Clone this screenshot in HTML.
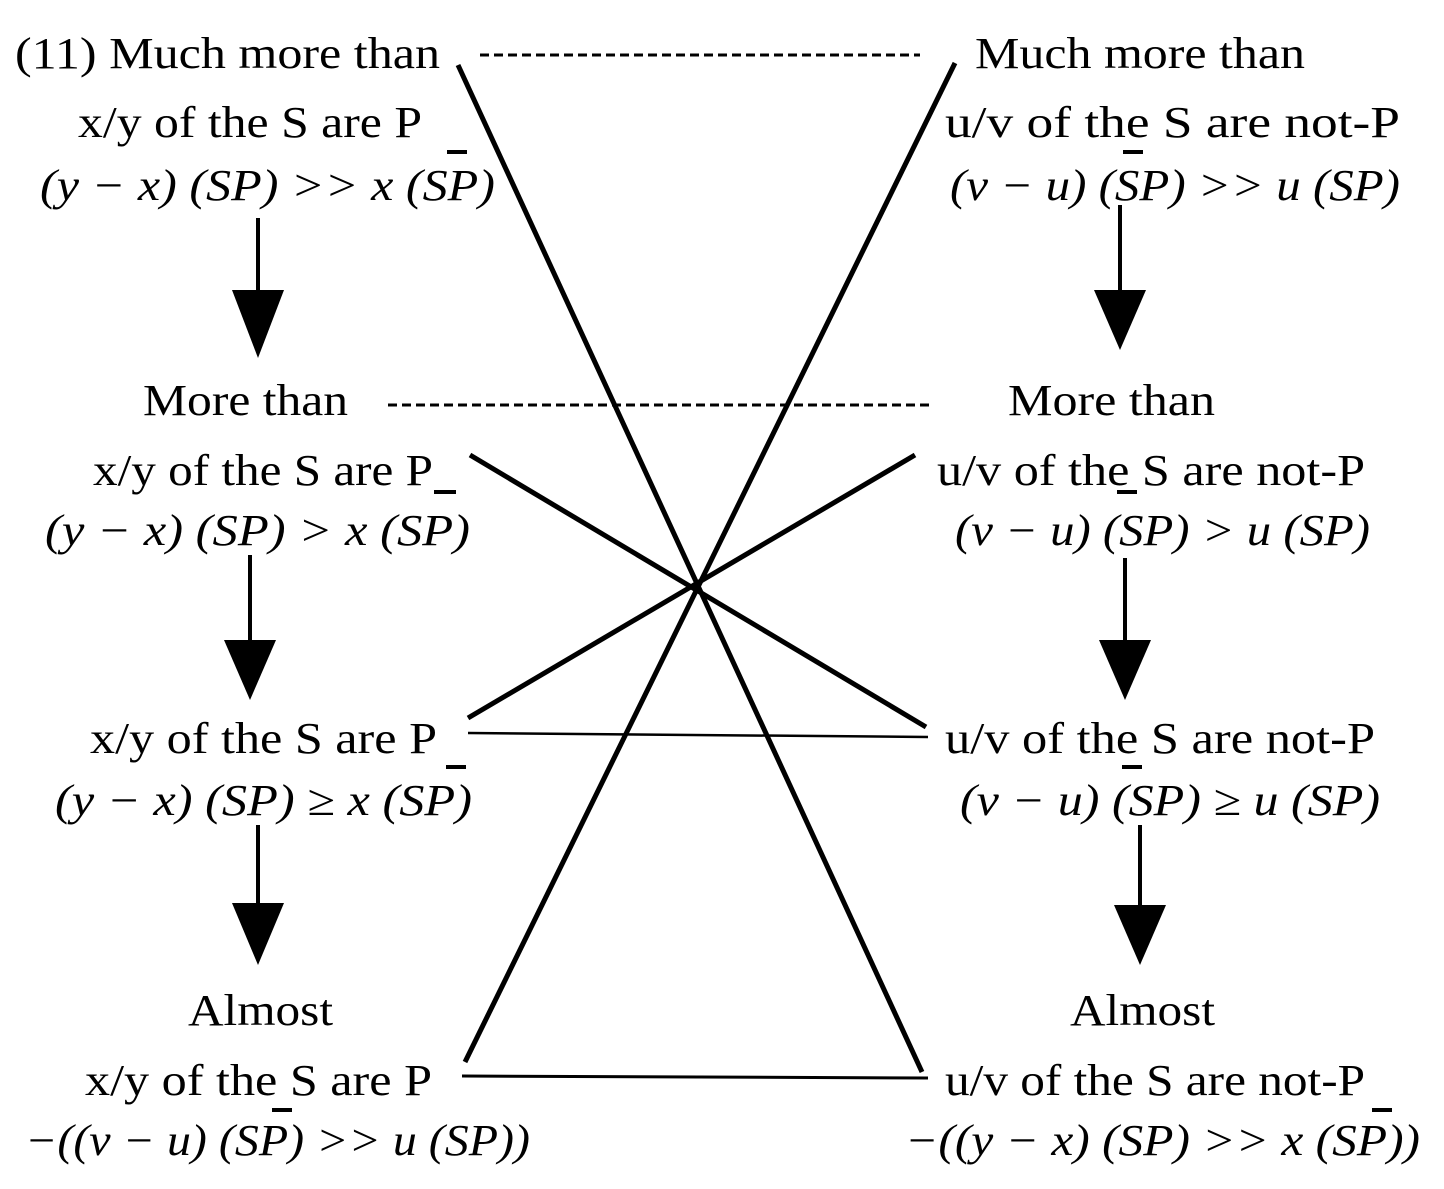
<!DOCTYPE html>
<html><head><meta charset="utf-8"><style>
html,body{margin:0;padding:0;background:#fff}
svg{display:block}
text{font-family:"Liberation Serif",serif;font-size:44px;fill:#000}
.i{font-style:italic}
</style></head><body>
<svg width="1444" height="1189" viewBox="0 0 1444 1189" xmlns="http://www.w3.org/2000/svg">
<g stroke="#000" fill="none">
<line x1="458" y1="65" x2="922" y2="1072" stroke-width="5"/>
<line x1="955" y1="63" x2="465" y2="1062" stroke-width="5"/>
<line x1="470" y1="455" x2="926" y2="727" stroke-width="5"/>
<line x1="915" y1="455" x2="468" y2="718" stroke-width="5"/>
<line x1="468" y1="733" x2="928" y2="737" stroke-width="2.5"/>
<line x1="462" y1="1076" x2="928" y2="1078" stroke-width="3"/>
<line x1="480" y1="55" x2="920" y2="55" stroke-width="3" stroke-dasharray="9,5"/>
<line x1="388" y1="405" x2="932" y2="405" stroke-width="3" stroke-dasharray="9,5"/>
<line x1="258" y1="218" x2="258" y2="295" stroke-width="4"/>
<line x1="250" y1="555" x2="250" y2="645" stroke-width="4"/>
<line x1="258" y1="825" x2="258" y2="905" stroke-width="4"/>
<line x1="1120" y1="205" x2="1120" y2="295" stroke-width="4"/>
<line x1="1125" y1="558" x2="1125" y2="645" stroke-width="4"/>
<line x1="1140" y1="825" x2="1140" y2="910" stroke-width="4"/>
</g>
<g fill="#000">
<polygon points="232,290 284,290 258,358"/>
<polygon points="224,640 276,640 250,700"/>
<polygon points="232,903 284,903 258,965"/>
<polygon points="1094,290 1146,290 1120,350"/>
<polygon points="1099,640 1151,640 1125,700"/>
<polygon points="1114,905 1166,905 1140,965"/>
<rect x="447" y="150" width="20" height="4"/>
<rect x="1123" y="150" width="20" height="4"/>
<rect x="434" y="490" width="22" height="4"/>
<rect x="1117" y="490" width="20" height="4"/>
<rect x="446" y="765" width="20" height="4"/>
<rect x="1122" y="765" width="20" height="4"/>
<rect x="272" y="1108" width="20" height="4"/>
<rect x="1372" y="1108" width="20" height="4"/>
</g>
<text x="15" y="68" textLength="425" lengthAdjust="spacingAndGlyphs">(11) Much more than</text>
<text x="78" y="137" textLength="344" lengthAdjust="spacingAndGlyphs">x/y of the S are P</text>
<text class="i" x="40" y="200" textLength="455" lengthAdjust="spacingAndGlyphs">(y − x) (SP) &gt;&gt; x (SP)</text>
<text x="975" y="68" textLength="330" lengthAdjust="spacingAndGlyphs">Much more than</text>
<text x="945" y="137" textLength="455" lengthAdjust="spacingAndGlyphs">u/v of the S are not-P</text>
<text class="i" x="950" y="200" textLength="450" lengthAdjust="spacingAndGlyphs">(v − u) (SP) &gt;&gt; u (SP)</text>

<text x="143" y="415" textLength="205" lengthAdjust="spacingAndGlyphs">More than</text>
<text x="93" y="485" textLength="340" lengthAdjust="spacingAndGlyphs">x/y of the S are P</text>
<text class="i" x="45" y="545" textLength="425" lengthAdjust="spacingAndGlyphs">(y − x) (SP) &gt; x (SP)</text>
<text x="1008" y="415" textLength="207" lengthAdjust="spacingAndGlyphs">More than</text>
<text x="937" y="485" textLength="428" lengthAdjust="spacingAndGlyphs">u/v of the S are not-P</text>
<text class="i" x="955" y="545" textLength="415" lengthAdjust="spacingAndGlyphs">(v − u) (SP) &gt; u (SP)</text>

<text x="90" y="753" textLength="347" lengthAdjust="spacingAndGlyphs">x/y of the S are P</text>
<text class="i" x="55" y="815" textLength="417" lengthAdjust="spacingAndGlyphs">(y − x) (SP) ≥ x (SP)</text>
<text x="945" y="753" textLength="430" lengthAdjust="spacingAndGlyphs">u/v of the S are not-P</text>
<text class="i" x="960" y="815" textLength="420" lengthAdjust="spacingAndGlyphs">(v − u) (SP) ≥ u (SP)</text>

<text x="188" y="1025" textLength="145" lengthAdjust="spacingAndGlyphs">Almost</text>
<text x="1070" y="1025" textLength="145" lengthAdjust="spacingAndGlyphs">Almost</text>
<text x="85" y="1095" textLength="347" lengthAdjust="spacingAndGlyphs">x/y of the S are P</text>
<text class="i" x="25" y="1155" textLength="505" lengthAdjust="spacingAndGlyphs">−((v − u) (SP) &gt;&gt; u (SP))</text>
<text x="945" y="1095" textLength="420" lengthAdjust="spacingAndGlyphs">u/v of the S are not-P</text>
<text class="i" x="905" y="1155" textLength="515" lengthAdjust="spacingAndGlyphs">−((y − x) (SP) &gt;&gt; x (SP))</text>
</svg>
</body></html>
